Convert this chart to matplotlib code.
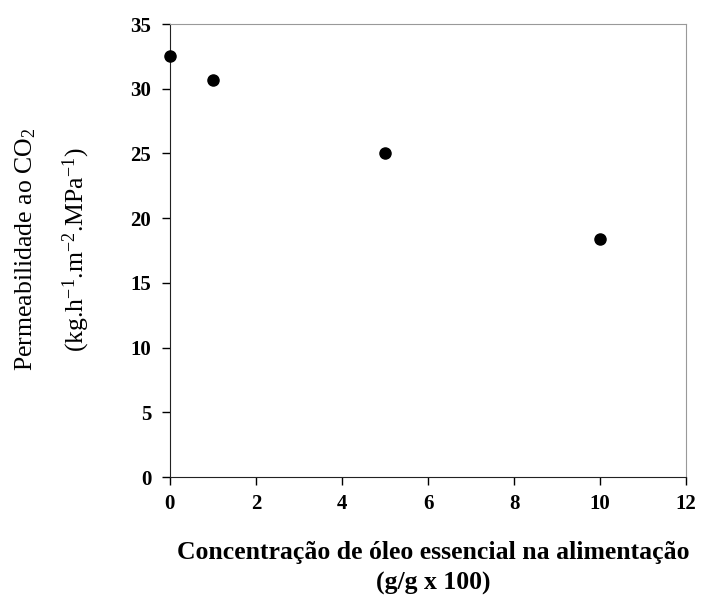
import matplotlib
matplotlib.use("Agg")
import matplotlib.pyplot as plt

concentration = [0, 1, 5, 10]
permeability = [32.5, 30.7, 25.0, 18.4]
x_ticks = [0, 2, 4, 6, 8, 10, 12]
y_ticks = [0, 5, 10, 15, 20, 25, 30, 35]

plt.rcParams['font.family'] = ['Liberation Serif', 'DejaVu Serif']
plt.rcParams['mathtext.fontset'] = 'custom'
plt.rcParams['mathtext.rm'] = 'Liberation Serif'
plt.rcParams['mathtext.it'] = 'Liberation Serif:italic'
plt.rcParams['mathtext.bf'] = 'Liberation Serif:bold'

fig = plt.figure(figsize=(7.17, 6.02), dpi=100)
ax = fig.add_axes([0.237, 0.2076, 0.72, 0.7524])

ax.plot(concentration, permeability, 'o', color='black', markersize=8, clip_on=False, zorder=5)

ax.set_xlim(0, 12)
ax.set_ylim(0, 35)
ax.set_xticks(x_ticks)
ax.set_yticks(y_ticks)
ax.tick_params(direction='out', length=5.5, width=1, labelsize=15)
ax.tick_params(axis='y', pad=8)
ax.tick_params(axis='x', pad=7)
for lbl in ax.get_xticklabels() + ax.get_yticklabels():
    lbl.set_fontweight('bold')

ax.spines['left'].set_color('#222222')
ax.spines['bottom'].set_color('#222222')
ax.spines['top'].set_color('#999999')
ax.spines['right'].set_color('#999999')
ax.spines['top'].set_linewidth(0.8)
ax.spines['right'].set_linewidth(0.8)

fig.text(0.604, 0.083, 'Concentração de óleo essencial na alimentação',
         ha='center', va='center', fontsize=18.5, fontweight='bold')
fig.text(0.604, 0.031, '(g/g x 100)', ha='center', va='center',
         fontsize=18.5, fontweight='bold')

fig.text(0.036, 0.585, 'Permeabilidade ao CO$_2$', rotation=90,
         ha='center', va='center', fontsize=18.5)
fig.text(0.107, 0.585, '(kg.h$^{-1}$.m$^{-2}$.MPa$^{-1}$)', rotation=90,
         ha='center', va='center', fontsize=18.5)

fig.savefig('out.png', dpi=100)
